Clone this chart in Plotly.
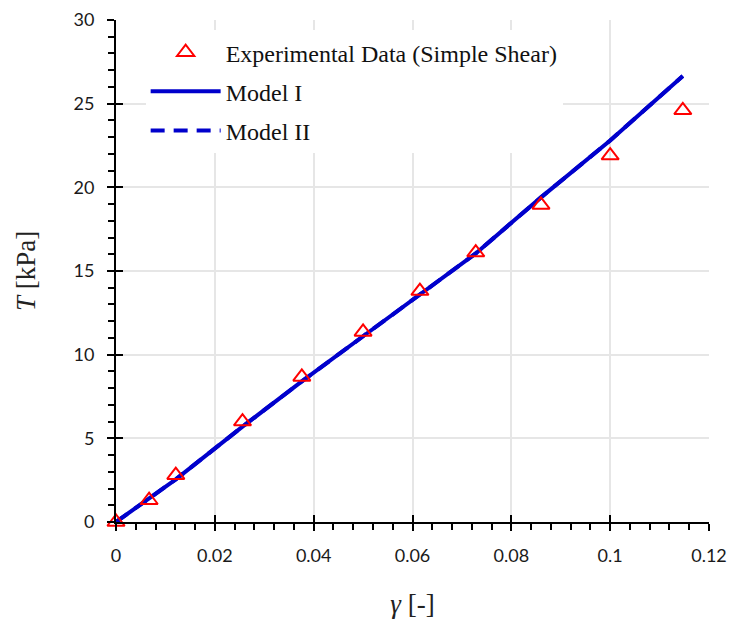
import plotly.graph_objects as go

# Experimental data (simple shear)
exp_gamma = [0.0, 0.0067, 0.0121, 0.0256, 0.0376, 0.0500, 0.0615, 0.0728, 0.0860, 0.1000, 0.1147]
exp_T = [0.0, 1.3, 2.8, 6.0, 8.67, 11.36, 13.8, 16.1, 18.95, 21.9, 24.6]

# Model curves
model_gamma = [0.0, 0.0121, 0.0256, 0.0376, 0.0500, 0.0615, 0.0728, 0.0860, 0.1000, 0.1147]
model1_T = [0.0, 2.55, 5.7, 8.4, 11.1, 13.6, 16.05, 19.4, 22.8, 26.65]
model2_T = [0.0, 2.55, 5.7, 8.4, 11.1, 13.6, 16.05, 19.4, 22.8, 26.65]

x_ticks = [0, 0.02, 0.04, 0.06, 0.08, 0.1, 0.12]
x_ticklabels = ["0", "0.02", "0.04", "0.06", "0.08", "0.1", "0.12"]
y_ticks = [0, 5, 10, 15, 20, 25, 30]

BLUE = "#0000CC"
tick_font = dict(family="Lato, Noto Sans, sans-serif", size=18, color="#1a1a1a")
serif = "Liberation Serif, Times New Roman, serif"

fig = go.Figure()
fig.add_trace(go.Scatter(
    x=model_gamma, y=model1_T, mode="lines", name="Model I",
    line=dict(color=BLUE, width=4), legendgroup="b", legendrank=2))
fig.add_trace(go.Scatter(
    x=model_gamma, y=model2_T, mode="lines", name="Model II",
    line=dict(color=BLUE, width=4, dash="14px,9px"), legendgroup="c", legendrank=3))
fig.add_trace(go.Scatter(
    x=exp_gamma, y=exp_T, mode="markers", name="Experimental Data (Simple Shear)",
    marker=dict(symbol="triangle-up-open", size=15, color="#FF0000", line=dict(width=2, color="#FF0000")),
    legendgroup="a", legendrank=1, cliponaxis=False))
# invisible trace for overlay axes (inside major ticks)
fig.add_trace(go.Scatter(x=[0], y=[0], xaxis="x2", yaxis="y2", mode="markers",
                         marker=dict(opacity=0), showlegend=False, hoverinfo="skip"))

fig.update_layout(
    width=734, height=619,
    margin=dict(l=116, r=25, t=20, b=97),
    plot_bgcolor="white", paper_bgcolor="white",
    showlegend=True,
    legend=dict(x=0.05, y=0.98, xanchor="left", yanchor="top",
                bgcolor="white", font=dict(family=serif, size=24, color="#111111"),
                traceorder="grouped", tracegroupgap=5, itemwidth=70),
    xaxis=dict(range=[0, 0.12], tickvals=x_ticks, ticktext=x_ticklabels,
               showline=True, linecolor="black", linewidth=2,
               ticks="outside", ticklen=7, tickwidth=2, tickcolor="black",
               minor=dict(dtick=0.004, ticks="outside", ticklen=6, tickwidth=1.5, tickcolor="black", showgrid=False),
               showgrid=True, gridcolor="#E6E6E6", gridwidth=1.5, zeroline=False,
               tickfont=tick_font, ticklabelstandoff=9, automargin=False,
               title=dict(text="<i>γ</i> [-]", font=dict(family=serif, size=27, color="#222222"), standoff=30)),
    yaxis=dict(range=[0, 30], tickvals=y_ticks,
               showline=True, linecolor="black", linewidth=2,
               ticks="outside", ticklen=7, tickwidth=2, tickcolor="black",
               minor=dict(dtick=1, ticks="outside", ticklen=6, tickwidth=1.5, tickcolor="black", showgrid=False),
               showgrid=True, gridcolor="#E6E6E6", gridwidth=1.5, zeroline=False,
               tickfont=tick_font, ticklabelstandoff=9, automargin=False,
               title=dict(text="<i>T</i> [kPa]", font=dict(family=serif, size=27, color="#222222"), standoff=30)),
    xaxis2=dict(overlaying="x", anchor="y2", side="bottom", range=[0, 0.12], tickvals=x_ticks,
                showticklabels=False, ticks="inside", ticklen=7, tickwidth=2, tickcolor="black",
                showgrid=False, zeroline=False, showline=False, automargin=False),
    yaxis2=dict(overlaying="y", anchor="x2", side="left", range=[0, 30], tickvals=y_ticks,
                showticklabels=False, ticks="inside", ticklen=7, tickwidth=2, tickcolor="black",
                showgrid=False, zeroline=False, showline=False, automargin=False),
)

fig.write_html("out.html")
